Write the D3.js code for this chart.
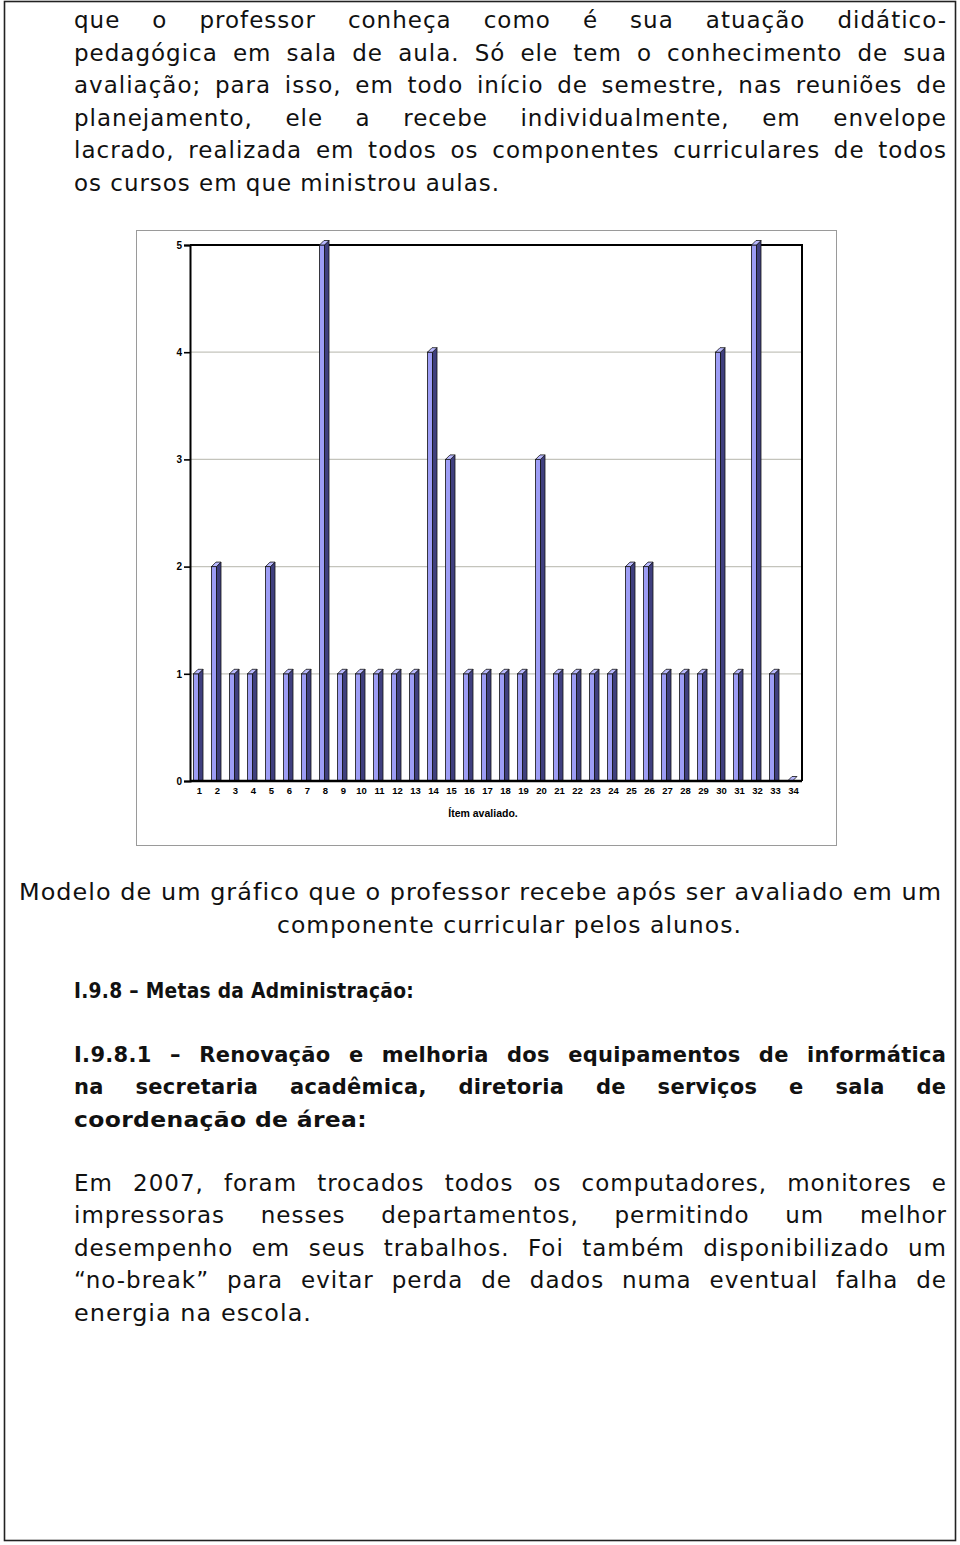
<!DOCTYPE html>
<html><head><meta charset="utf-8">
<script src="https://cdn.jsdelivr.net/npm/d3@7/dist/d3.min.js"></script>
<style>
html,body{margin:0;padding:0;background:#fff;}
svg{display:block;}
</style></head>
<body>
<svg id="page" width="960" height="1545"></svg>
<script>
// ---- data ----
const categories = d3.range(1, 35).map(String);
const values = [1,2,1,1,2,1,1,5,1,1,1,1,1,4,3,1,1,1,1,3,1,1,1,1,2,2,1,1,1,4,1,5,1,0];
const yTicks = [0,1,2,3,4,5];
const xTitle = "Ítem avaliado.";

const introLines = [
  {t:"que o professor conheça como é sua atuação didático-", x0:74, x1:946, y:28, j:true},
  {t:"pedagógica em sala de aula.  Só ele tem o conhecimento de sua", x0:74, x1:946, y:61, j:true},
  {t:"avaliação; para isso, em todo início de semestre, nas reuniões de", x0:74, x1:946, y:93, j:true},
  {t:"planejamento,   ele a recebe individualmente, em envelope", x0:74, x1:946, y:126, j:true},
  {t:"lacrado, realizada em todos os componentes curriculares de todos", x0:74, x1:946, y:158, j:true},
  {t:"os cursos em que ministrou aulas.", x0:74, x1:500, y:191, j:false}
];
const captionLines = [
  {t:"Modelo de um gráfico que o professor recebe após ser avaliado em um", x0:19, x1:942, y:900, j:false},
  {t:"componente curricular pelos alunos.", x0:277, x1:742, y:933, j:false}
];
const headingLines = [
  {t:"I.9.8 – Metas da Administração:", x0:74, x1:414, y:998, j:false},
  {t:"I.9.8.1 – Renovação e melhoria dos equipamentos de informática", x0:74, x1:946, y:1062, j:true},
  {t:"na secretaria acadêmica, diretoria de serviços e sala de", x0:74, x1:946, y:1094, j:true},
  {t:"coordenação de área:", x0:74, x1:367, y:1127, j:false}
];
const bodyLines = [
  {t:"Em 2007, foram trocados todos os computadores, monitores e", x0:74, x1:946, y:1191, j:true},
  {t:"impressoras nesses departamentos, permitindo um melhor", x0:74, x1:946, y:1223, j:true},
  {t:"desempenho em seus trabalhos. Foi também disponibilizado um", x0:74, x1:946, y:1256, j:true},
  {t:"“no-break” para evitar perda de dados numa eventual falha de", x0:74, x1:946, y:1288, j:true},
  {t:"energia na escola.", x0:74, x1:312, y:1321, j:false}
];

const svg = d3.select("#page");

// page border
svg.append("rect").attr("x",4.5).attr("y",1.5).attr("width",951).attr("height",1539)
  .attr("fill","none").attr("stroke","#222").attr("stroke-width",1.6);

const bodyFont = "'DejaVu Sans', sans-serif";

function setLine(line, weight, size, ls){
  const g = svg.append("g").attr("font-family", bodyFont).attr("font-size", size)
    .attr("font-weight", weight).attr("fill","#111").attr("letter-spacing", ls);
  if (!line.j) {
    g.append("text").attr("x", line.x0).attr("y", line.y)
      .attr("textLength", line.x1 - line.x0).attr("lengthAdjust","spacingAndGlyphs")
      .text(line.t.replace(/\s+/g," "));
    return;
  }
  const words = line.t.split(/\s+/);
  const nodes = words.map(w => g.append("text").attr("y", line.y).text(w));
  const widths = nodes.map(n => n.node().getComputedTextLength() - ls);
  const total = d3.sum(widths);
  const gap = words.length > 1 ? ((line.x1 - line.x0) - total) / (words.length - 1) : 0;
  let x = line.x0;
  nodes.forEach((n,i) => { n.attr("x", x); x += widths[i] + gap; });
}

introLines.forEach(l => setLine(l, 400, 23, 1));
captionLines.forEach(l => setLine(l, 400, 23, 1));
headingLines.forEach(l => setLine(l, 700, 21, 0.3));
bodyLines.forEach(l => setLine(l, 400, 23, 1));

// ---- chart ----
svg.append("rect").attr("x",136.5).attr("y",230.5).attr("width",700).attr("height",615)
  .attr("fill","#fff").attr("stroke","#9a9a9a").attr("stroke-width",1);

const plot = {l:190, r:802, t:245, b:781};
const x = d3.scaleBand().domain(categories).range([plot.l, plot.r]).paddingInner(0).paddingOuter(0);
const y = d3.scaleLinear().domain([0,5]).range([plot.b, plot.t]);

const cg = svg.append("g");
// gridlines
cg.selectAll("line.grid").data(yTicks.filter(d => d>0 && d<5)).join("line")
  .attr("x1",plot.l).attr("x2",plot.r).attr("y1",d=>y(d)).attr("y2",d=>y(d))
  .attr("stroke","#c4c4bc").attr("stroke-width",1.2);
// top and right frame
cg.append("path").attr("d",`M${plot.l},${plot.t}H${plot.r}V${plot.b}`)
  .attr("fill","none").attr("stroke","#000").attr("stroke-width",2);

// bars
const fw = 5, dep = 4.5;
const bars = cg.selectAll("g.bar").data(values.map((v,i)=>({c:categories[i], v}))).join("g");
bars.each(function(d){
  const g = d3.select(this);
  const x0 = x(d.c) + x.bandwidth()/2 - 5.5;
  const yt = y(d.v), yb = y(0);
  if (d.v > 0) {
    g.append("rect").attr("x",x0).attr("y",yt).attr("width",fw).attr("height",yb-yt)
      .attr("fill","#9d9df5").attr("stroke","#111").attr("stroke-width",0.8);
    g.append("path").attr("d",`M${x0+fw},${yt}L${x0+fw+dep},${yt-dep}L${x0+fw+dep},${yb}L${x0+fw},${yb}Z`)
      .attr("fill","#3f3f7e").attr("stroke","#111").attr("stroke-width",0.8);
  }
  g.append("path").attr("d",`M${x0},${yt}L${x0+dep},${yt-dep}L${x0+fw+dep},${yt-dep}L${x0+fw},${yt}Z`)
    .attr("fill","#b8b8ff").attr("stroke","#111").attr("stroke-width",0.8);
});

// axes
const yAxis = d3.axisLeft(y).tickValues(yTicks).tickSize(6).tickFormat(d3.format("d"));
const ya = svg.append("g").attr("transform",`translate(${plot.l},0)`).call(yAxis);
ya.select(".domain").attr("stroke","#000").attr("stroke-width",2);
ya.selectAll(".tick line").attr("stroke","#000").attr("stroke-width",1.6);
ya.selectAll(".tick text").attr("font-family","'Liberation Sans', Arial, sans-serif")
  .attr("font-size",10).attr("font-weight",700).attr("fill","#000").attr("x",-8);

const xAxis = d3.axisBottom(x).tickSize(0).tickPadding(6.5);
const xa = svg.append("g").attr("transform",`translate(0,${plot.b})`).call(xAxis);
xa.select(".domain").attr("stroke","#000").attr("stroke-width",2.5).attr("d",`M${plot.l},0H${plot.r}`);
xa.selectAll(".tick text").attr("font-family","'Liberation Sans', Arial, sans-serif")
  .attr("font-size",9.5).attr("font-weight",700).attr("fill","#000").attr("dx",0.5);

svg.append("text").attr("x",483).attr("y",817).attr("text-anchor","middle")
  .attr("font-family","'Liberation Sans', Arial, sans-serif").attr("font-size",10.5)
  .attr("font-weight",700).attr("fill","#000").text(xTitle);
</script>
</body></html>
